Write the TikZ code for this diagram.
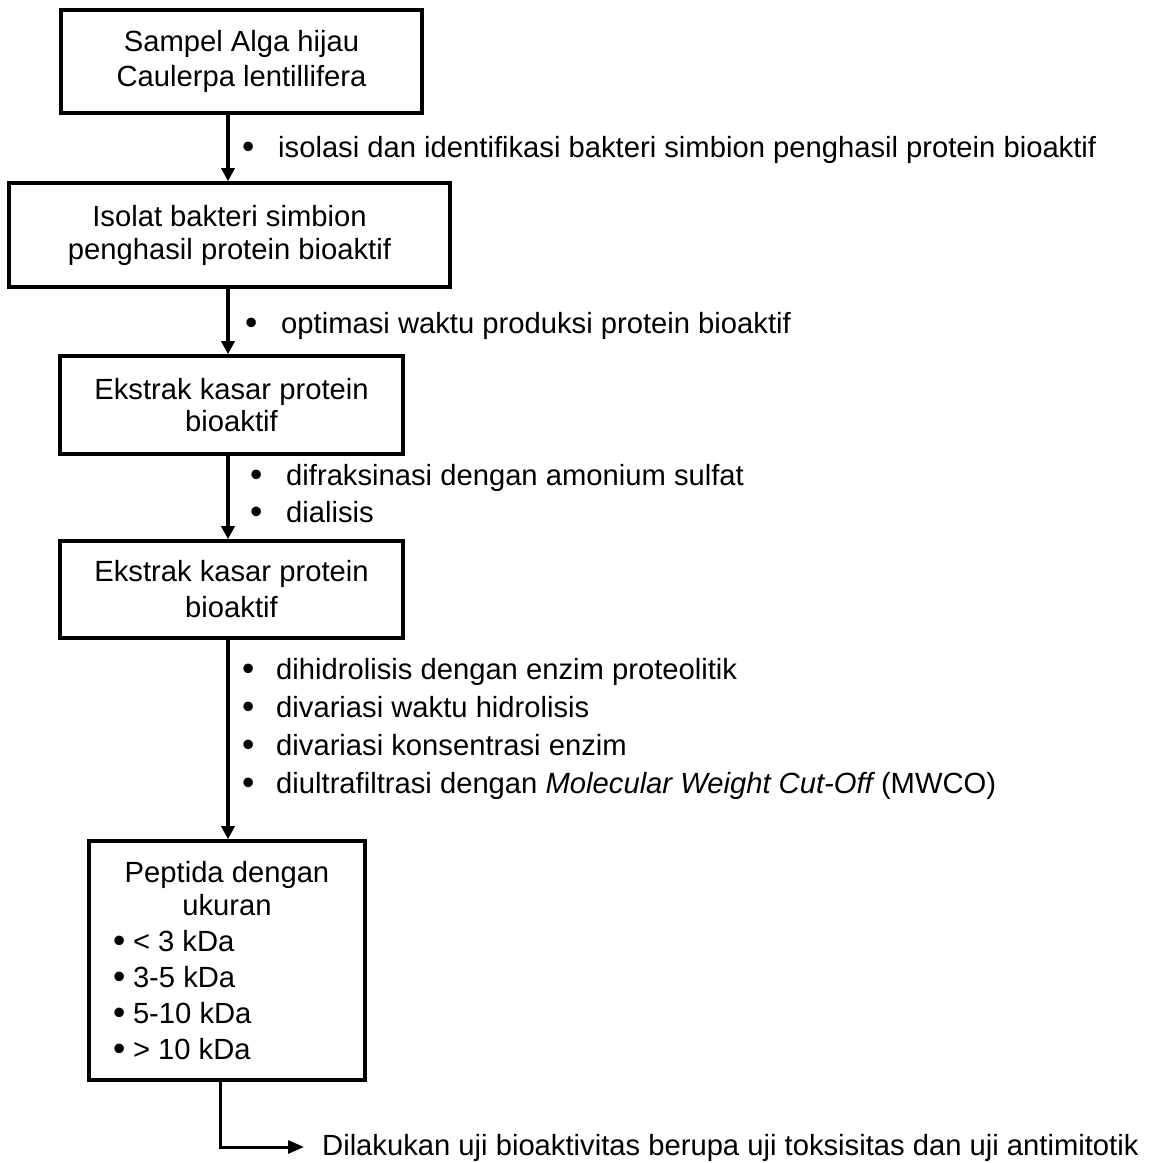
\documentclass[tikz,border=0pt]{standalone}
\usepackage{fontspec}
\setmainfont{Liberation Sans}
\usetikzlibrary{arrows.meta}
% bullet followed by a fixed gap before the item text
\newcommand\blt{\raisebox{-1pt}{\scalebox{1.2}{•}}}
\newcommand\bl[1][36pt]{\makebox[#1][l]{\blt}}
\begin{document}
\begin{tikzpicture}[x=1pt,y=-1pt,
  box/.style={draw, line width=3.6pt, inner sep=0pt, align=center,
              font=\fontsize{29.2}{35}\selectfont},
  flow/.style={line width=3.6pt, -{Triangle[length=13pt,width=13pt]}},
  steps/.style={anchor=base west, inner sep=0pt, align=left,
                font=\fontsize{29.2}{37.7}\selectfont}]
\useasboundingbox (0,0) rectangle (1154,1163);

% process boxes
\node[box, minimum width=361pt, minimum height=103pt] (b1) at (241.5,61.5)
  {Sampel Alga hijau\\Caulerpa lentillifera};
\node[box, minimum width=441pt, minimum height=104pt,
      font=\fontsize{29.2}{33}\selectfont] (b2) at (229.5,235)
  {Isolat bakteri simbion\\penghasil protein bioaktif};
\node[box, minimum width=343pt, minimum height=98pt,
      font=\fontsize{29.2}{32}\selectfont] (b3) at (231.5,405)
  {Ekstrak kasar protein\\bioaktif};
\node[box, minimum width=343pt, minimum height=97pt,
      font=\fontsize{29.2}{36}\selectfont] (b4) at (231.5,589.5)
  {Ekstrak kasar protein\\bioaktif};
\node[box, minimum width=276pt, minimum height=239pt,
      font=\fontsize{29.2}{36}\selectfont] (b5) at (227,960.5)
  {Peptida dengan\\[-3pt]ukuran\\
   \makebox[228pt][l]{\bl[20pt]< 3 kDa}\\
   \makebox[228pt][l]{\bl[20pt]3-5 kDa}\\
   \makebox[228pt][l]{\bl[20pt]5-10 kDa}\\
   \makebox[228pt][l]{\bl[20pt]> 10 kDa}};

% treatment steps beside the arrows (base = baseline of the last line)
\node[steps] (s1) at (242,157)
  {\bl isolasi dan identifikasi bakteri simbion penghasil protein bioaktif};
\node[steps] (s2) at (245,333)
  {\bl optimasi waktu produksi protein bioaktif};
\node[steps, font=\fontsize{29.2}{37}\selectfont] (s3) at (250,522)
  {\bl difraksinasi dengan amonium sulfat\\
   \bl dialisis};
\node[steps] (s4) at (242,793)
  {\bl[34pt]dihidrolisis dengan enzim proteolitik\\
   \bl[34pt]divariasi waktu hidrolisis\\
   \bl[34pt]divariasi konsentrasi enzim\\
   \bl[34pt]diultrafiltrasi dengan {\itshape Molecular Weight Cut-Off} (MWCO)};
\node[steps] (res) at (322,1155)
  {Dilakukan uji bioaktivitas berupa uji toksisitas dan uji antimitotik};

% connectors
\coordinate (ax) at (228,0);
\draw[flow] (b1.south -| ax) -- (b2.north -| ax);
\draw[flow] (b2.south -| ax) -- (b3.north -| ax);
\draw[flow] (b3.south -| ax) -- (b4.north -| ax);
\draw[flow] (b4.south -| ax) -- (b5.north -| ax);
\coordinate (turn) at (220,1147);
\coordinate (tip) at (304,1147);
\draw[line width=3pt, -{Triangle[length=16pt,width=13pt]}]
  (b5.south -| turn) |- (tip);
\end{tikzpicture}
\end{document}
